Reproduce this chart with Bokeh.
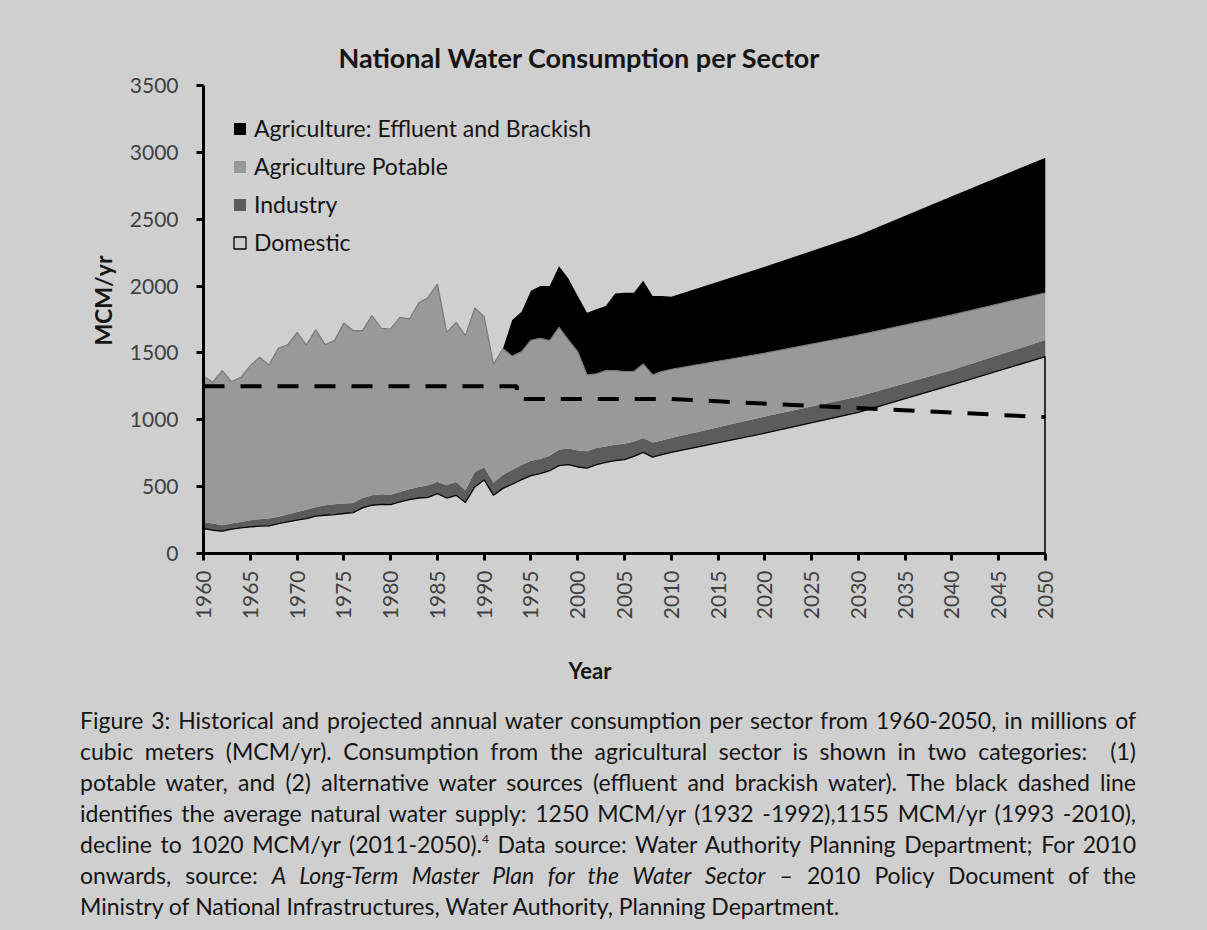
import math

from bokeh.embed import file_html
from bokeh.layouts import column
from bokeh.models import (ColumnDataSource, Div, FixedTicker, Legend, LegendItem,
                          Range1d, Title)
from bokeh.plotting import figure
from bokeh.resources import INLINE
from bokeh.transform import stack

# ---------------------------------------------------------------- data (MCM/yr)
years = list(range(1960, 2011)) + [2020, 2030, 2040, 2050]

domestic = [187, 174, 167, 182, 192, 199, 204, 206, 224, 236,
            249, 261, 279, 286, 291, 299, 306, 341, 361, 368,
            366, 386, 403, 415, 420, 448, 415, 435, 382, 498,
            550, 435, 487, 518, 553, 583, 597, 619, 657, 664,
            647, 639, 664, 682, 694, 702, 726, 756, 721, 739,
            756, 900, 1055, 1261, 1473]

industry = [49, 50, 44, 42, 44, 50, 52, 55, 50, 55,
            62, 67, 67, 75, 77, 74, 72, 74, 74, 75,
            74, 74, 77, 83, 90, 87, 95, 100, 91, 111,
            93, 95, 101, 108, 109, 110, 109, 112, 119, 122,
            124, 125, 125, 119, 119, 119, 112, 107, 110, 107,
            107, 125, 119, 112, 124]

ag_potable = [1090, 1057, 1157, 1062, 1082, 1156, 1212, 1149, 1261, 1269,
              1343, 1232, 1326, 1201, 1224, 1351, 1289, 1252, 1344, 1241,
              1239, 1306, 1274, 1375, 1405, 1480, 1144, 1194, 1156, 1228,
              1128, 884, 943, 850, 848, 902, 903, 861, 916, 811,
              739, 572, 554, 567, 555, 540, 523, 555, 505, 515,
              515, 473, 460, 411, 353]

ag_effluent = [0, 0, 0, 0, 0, 0, 0, 0, 0, 0,
               0, 0, 0, 0, 0, 0, 0, 0, 0, 0,
               0, 0, 0, 0, 0, 0, 0, 0, 0, 0,
               0, 0, 0, 270, 298, 370, 391, 408, 457, 460,
               415, 465, 483, 483, 577, 589, 589, 622, 589, 564,
               542, 646, 747, 888, 1010]

# average natural water supply (step in 1993, decline from 2010)
supply_years = [1960, 1993.5, 1993.5, 2010, 2050]
supply = [1250, 1250, 1155, 1155, 1020]

x_ticks = list(range(1960, 2051, 5))
y_ticks = list(range(0, 3501, 500))

# ---------------------------------------------------------------- style
BG = "#cfcfcf"
FONT = "Lato"
DARK = "#151515"

src = ColumnDataSource(dict(year=years, dom=domestic, ind=industry,
                            pot=ag_potable, eff=ag_effluent))

p = figure(width=1207, height=715,
           x_range=Range1d(years[0], years[-1]), y_range=Range1d(0, 3500),
           output_backend="svg", toolbar_location=None,
           min_border_left=203, min_border_right=162,
           min_border_top=85, min_border_bottom=161,
           background_fill_color=BG, border_fill_color=BG,
           outline_line_color=None)

p.xgrid.visible = False
p.ygrid.visible = False

# stacked sectors
r_ind = p.varea(x="year", y1=stack("dom"), y2=stack("dom", "ind"),
                fill_color="#5c5c5c", source=src)
r_pot = p.varea(x="year", y1=stack("dom", "ind"), y2=stack("dom", "ind", "pot"),
                fill_color="#999999", source=src)
r_eff = p.varea(x="year", y1=stack("dom", "ind", "pot"),
                y2=stack("dom", "ind", "pot", "eff"),
                fill_color="#000000", source=src)
p.line(x="year", y=stack("dom", "ind", "pot"), line_color="#7a7a7a",
       line_width=1.2, source=src)

# domestic: outlined region down to the axis
dom_x = years + [years[-1], years[0]]
dom_y = domestic + [0, 0]
r_dom = p.patch(dom_x, dom_y, fill_color=BG, line_color="#000000", line_width=1.3)
p.segment(x0=years[-1], y0=0, x1=years[-1], y1=domestic[-1],
          line_color="#000000", line_width=2.5)

# natural supply
p.line(supply_years, supply, line_color="#000000", line_width=4,
       line_dash="21 16")

# ---------------------------------------------------------------- axes
for ax in (p.xaxis[0], p.yaxis[0]):
    ax.axis_line_width = 3
    ax.axis_line_color = "#000000"
    ax.major_tick_line_width = 3
    ax.major_tick_line_color = "#000000"
    ax.major_tick_in = 0
    ax.major_tick_out = 7
    ax.minor_tick_line_color = None
    ax.major_label_text_font = FONT
    ax.major_label_text_font_size = "21px"
    ax.major_label_text_color = "#404040"

p.xaxis.ticker = FixedTicker(ticks=x_ticks)
p.xaxis.major_label_orientation = math.pi / 2
p.xaxis.major_label_standoff = 10

p.yaxis.ticker = FixedTicker(ticks=y_ticks)
p.yaxis.major_label_standoff = 18

p.title.text = "National Water Consumption per Sector"
p.title.align = "left"
p.title.offset = 135
p.title.standoff = 23
p.title.text_font = FONT
p.title.text_font_size = "27px"
p.title.text_font_style = "bold"
p.title.text_color = DARK

p.add_layout(Title(text="MCM/yr", align="right", offset=170, standoff=19,
                   text_font=FONT, text_font_size="23px",
                   text_font_style="bold", text_color=DARK), "left")

p.add_layout(Title(text="Year", align="left", offset=365, standoff=64,
                   text_font=FONT, text_font_size="22px",
                   text_font_style="bold", text_color=DARK), "below")

# ---------------------------------------------------------------- legend
legend = Legend(items=[
    LegendItem(label="Agriculture: Effluent and Brackish", renderers=[r_eff]),
    LegendItem(label="Agriculture Potable", renderers=[r_pot]),
    LegendItem(label="Industry", renderers=[r_ind]),
    LegendItem(label="Domestic", renderers=[r_dom]),
])
legend.location = "top_left"
legend.margin = 29
legend.padding = 0
legend.spacing = 10
legend.glyph_width = 15
legend.glyph_height = 15
legend.label_standoff = 7
legend.border_line_color = None
legend.background_fill_alpha = 0
legend.label_text_font = FONT
legend.label_text_font_size = "23px"
legend.label_text_color = DARK
p.add_layout(legend)

# ---------------------------------------------------------------- caption
caption_lines = [
    "Figure 3: Historical and projected annual water consumption per sector from 1960-2050, in millions of",
    "cubic meters (MCM/yr). Consumption from the agricultural sector is shown in two categories:&nbsp; (1)",
    "potable water, and (2) alternative water sources (effluent and brackish water). The black dashed line",
    "identifies the average natural water supply: 1250 MCM/yr (1932 -1992),1155 MCM/yr (1993 -2010),",
    "decline to 1020 MCM/yr (2011-2050).<sup style='font-size:12px;line-height:0;vertical-align:10px'>4</sup> "
    "Data source: Water Authority Planning Department; For 2010",
    "onwards, source: <i>A Long-Term Master Plan for the Water Sector</i> &ndash; 2010 Policy Document of the",
    "Ministry of National Infrastructures, Water Authority, Planning Department.",
]
rows = []
for i, line in enumerate(caption_lines):
    last = i == len(caption_lines) - 1
    align = "left" if last else "justify"
    rows.append(f"<div style='white-space:nowrap;text-align:{align};"
                f"text-align-last:{align};'>{line}</div>")
caption_html = (f"<div style='width:1056px;margin-left:80px;position:relative;top:-10px;"
                f"font-family:{FONT};font-size:23px;line-height:31px;color:{DARK};'>"
                + "".join(rows) + "</div>")

caption = Div(text=caption_html, width=1207, height=215,
              styles={"background-color": BG, "margin": "0", "padding": "0"})

layout = column(p, caption, spacing=0, styles={"background-color": BG})

with open("out.html", "w") as f:
    f.write(file_html(layout, INLINE))
